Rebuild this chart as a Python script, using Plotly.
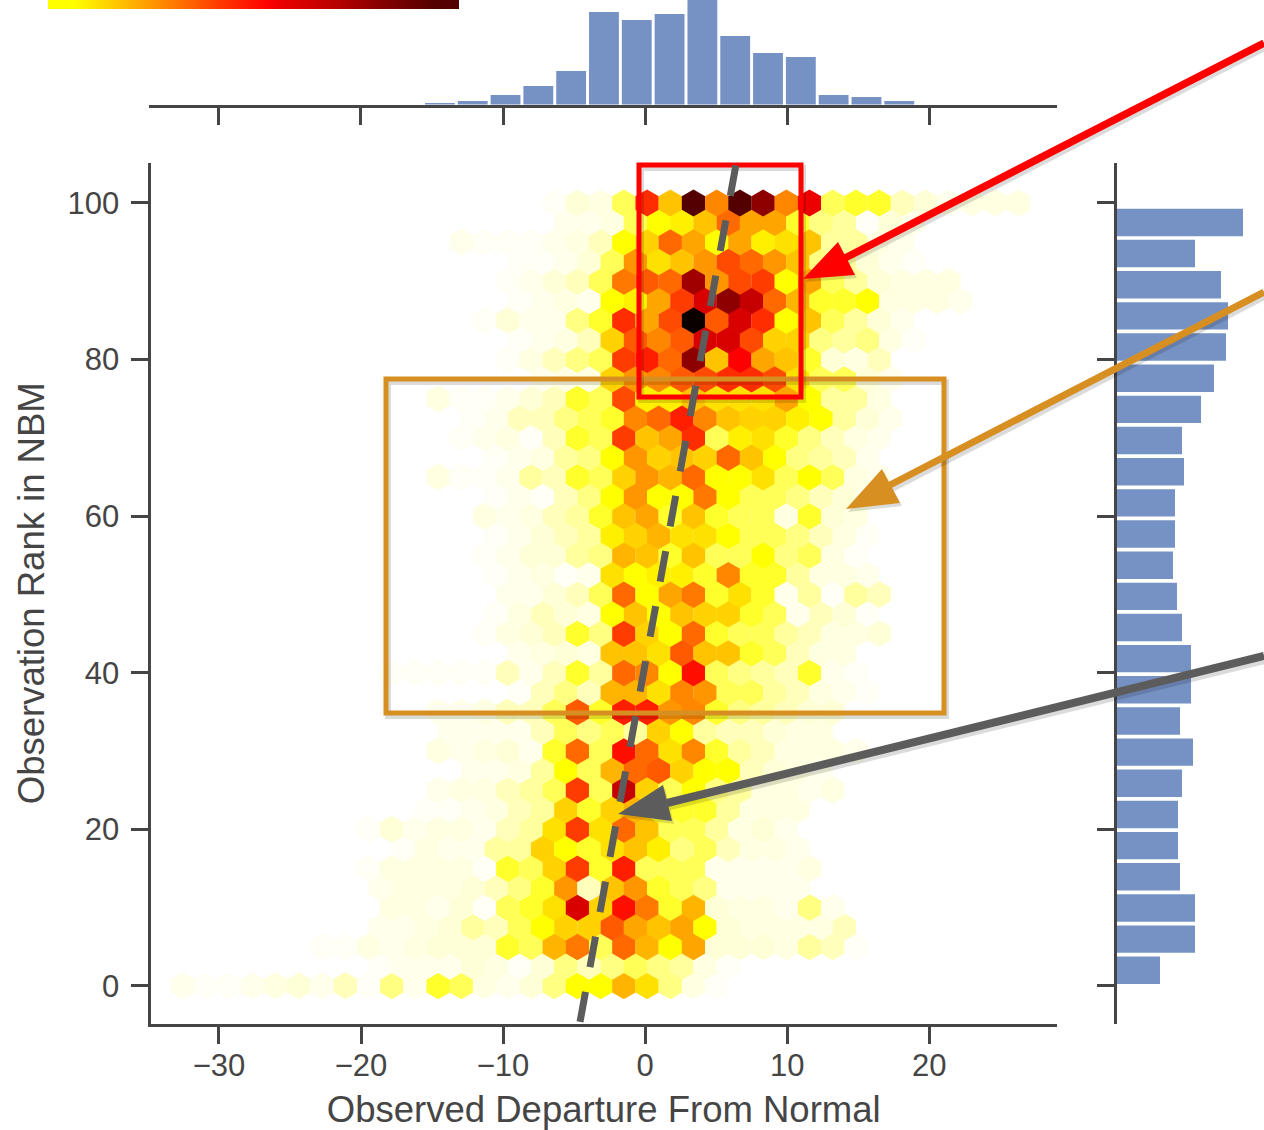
import plotly.graph_objects as go

# ---- axis tick labels ----
x_ticks = [-30, -20, -10, 0, 10, 20]
y_ticks = [0, 20, 40, 60, 80, 100]
x_title = "Observed Departure From Normal"
y_title = "Observation Rank in NBM"

# ---- marginal histograms ----
top_hist_first_edge = -15.6
top_hist_bin = 2.31
top_hist_counts = [3, 5, 11, 20, 35, 94, 86, 92, 108, 70, 53, 49, 11, 9, 5]
right_hist_bin = 3.98
right_hist_counts = [45, 80, 80, 65, 63, 63, 67, 78, 65, 76, 76, 67, 62,
                     58, 60, 60, 69, 67, 86, 99, 111, 113, 106, 80, 128]

# ---- hexbin counts, one list per hexagon row (bottom to top) ----
hex_dx = 1.634
hex_dy = 2.5
hex_x0 = 0.14
row_starts = [-20, -12, -14, -12, -11, -12, -12, -11, -12, -10, -9, -8, -9, -9, -9, -6, -11, -6, -7, -7, -6,
              -7, -7, -7, -7, -7, -9, -7, -8, -8, -9, -5, -6, -6, -7, -6, -6, -6, -8, -4, -4]
row_00 = [2, 1, 1, 2, 3, 4, 2, 5, 1, 7, 2, 9, 8, 3, 2, 4, 7, 10, 10, 15, 12, 7, 3, 1]
row_01 = [1, 2, 2, 2, 4, 3, 1, 4, 7, 5, 7, 8, 7, 6, 3, 1]
row_02 = [1, 1, 3, 2, 3, 4, 4, 4, 9, 8, 15, 19, 8, 20, 15, 10, 16, 4, 4, 4, 3, 6, 5, 1]
row_03 = [2, 2, 3, 4, 6, 5, 8, 10, 13, 13, 21, 16, 14, 16, 10, 4, 3, 3, 3, 3, 5]
row_04 = [3, 3, 2, 4, 1, 8, 9, 12, 29, 13, 26, 19, 9, 15, 4, 3, 3, 2, 7, 2]
row_05 = [2, 3, 3, 3, 4, 5, 7, 9, 17, 5, 14, 17, 9, 8, 7, 2, 2, 2, 2]
row_06 = [1, 3, 3, 3, 3, 1, 9, 8, 13, 23, 9, 25, 8, 8, 8, 2, 2, 2, 2, 3]
row_07 = [1, 3, 2, 2, 6, 6, 13, 10, 9, 12, 14, 11, 7, 8, 5, 3, 3, 2]
row_08 = [1, 4, 2, 3, 3, 2, 5, 6, 12, 23, 12, 20, 14, 8, 8, 6, 3, 4, 2]
row_09 = [1, 1, 2, 3, 5, 6, 13, 9, 13, 15, 9, 9, 9, 6, 3, 3, 3]
row_10 = [2, 3, 3, 5, 6, 8, 23, 8, 30, 13, 8, 10, 7, 6, 3, 3, 2, 3]
row_11 = [2, 2, 3, 6, 10, 8, 15, 20, 21, 13, 10, 10, 5, 4, 3, 2]
row_12 = [3, 2, 3, 4, 2, 9, 20, 8, 26, 20, 12, 18, 9, 6, 5, 3, 3, 3, 2]
row_13 = [2, 2, 2, 2, 5, 8, 7, 8, 6, 13, 10, 6, 5, 5, 4, 3, 3]
row_14 = [2, 2, 3, 5, 5, 8, 21, 9, 25, 25, 17, 18, 9, 7, 6, 5, 4, 4]
row_15 = [1, 5, 7, 5, 15, 15, 12, 18, 17, 8, 8, 6, 5, 3, 2, 1]
row_16 = [1, 1, 1, 1, 1, 5, 2, 5, 9, 6, 20, 18, 10, 26, 8, 7, 6, 5, 9, 2, 1]
row_17 = [2, 3, 4, 3, 14, 14, 12, 21, 14, 14, 9, 8, 5, 3, 3]
row_18 = [1, 3, 4, 5, 9, 7, 23, 13, 10, 20, 9, 8, 8, 6, 5, 3, 3, 4]
row_19 = [1, 3, 5, 4, 3, 10, 14, 10, 14, 13, 13, 9, 8, 2, 5, 4, 1]
row_20 = [2, 2, 4, 5, 8, 20, 10, 16, 19, 9, 12, 9, 2, 6, 1, 6, 5]
row_21 = [1, 2, 3, 1, 2, 12, 10, 11, 11, 9, 18, 9, 9, 6, 3, 3, 2]
row_22 = [1, 2, 4, 4, 6, 7, 15, 14, 9, 14, 8, 8, 10, 7, 8, 3, 1]
row_23 = [1, 2, 4, 5, 6, 11, 13, 15, 12, 12, 10, 8, 8, 7, 5, 3, 1]
row_24 = [3, 2, 3, 5, 6, 9, 14, 16, 9, 14, 9, 8, 8, 3, 9, 4, 3]
row_25 = [1, 2, 1, 5, 7, 10, 17, 10, 10, 19, 10, 8, 8, 7, 5, 4, 2]
row_26 = [3, 1, 1, 2, 6, 5, 9, 8, 13, 17, 15, 20, 10, 10, 12, 8, 10, 8, 3, 2]
row_27 = [1, 2, 3, 6, 7, 10, 17, 13, 14, 13, 20, 14, 10, 7, 6, 5, 2]
row_28 = [1, 2, 3, 1, 5, 9, 8, 23, 14, 16, 24, 8, 11, 12, 9, 7, 5, 3, 2]
row_29 = [1, 2, 5, 5, 7, 8, 9, 18, 20, 25, 18, 14, 13, 13, 11, 10, 6, 4, 2]
row_30 = [3, 1, 1, 2, 4, 5, 9, 8, 22, 11, 11, 14, 12, 12, 12, 16, 10, 6, 6, 3]
row_31 = [2, 3, 3, 13, 17, 18, 21, 22, 24, 24, 22, 12, 8, 8, 4, 2]
row_32 = [1, 3, 5, 7, 8, 23, 25, 20, 33, 14, 27, 16, 14, 9, 4, 3, 5]
row_33 = [1, 2, 3, 5, 13, 21, 18, 21, 29, 29, 22, 13, 13, 7, 6, 7, 3, 1]
row_34 = [1, 4, 2, 2, 7, 9, 24, 16, 22, 40, 21, 29, 24, 10, 14, 8, 6, 4, 2]
row_35 = [1, 2, 3, 2, 10, 11, 16, 23, 29, 33, 30, 20, 15, 9, 9, 10, 3, 3, 3, 2]
row_36 = [1, 2, 4, 5, 8, 19, 21, 20, 32, 17, 22, 23, 10, 16, 8, 6, 4, 3, 3, 3]
row_37 = [1, 1, 2, 4, 8, 17, 12, 14, 17, 22, 20, 17, 14, 7, 6, 4, 2, 1]
row_38 = [2, 1, 1, 1, 2, 3, 5, 10, 13, 20, 16, 10, 16, 11, 12, 14, 6, 6, 3, 2]
row_39 = [2, 2, 3, 8, 10, 11, 14, 20, 16, 16, 9, 7, 6, 1, 4, 2]
row_40 = [1, 4, 3, 8, 24, 14, 36, 18, 36, 33, 18, 28, 8, 9, 9, 5, 4, 2, 3, 3, 3]
hex_rows = [row_00, row_01, row_02, row_03, row_04, row_05, row_06, row_07, row_08, row_09, row_10,
            row_11, row_12, row_13, row_14, row_15, row_16, row_17, row_18, row_19, row_20,
            row_21, row_22, row_23, row_24, row_25, row_26, row_27, row_28, row_29, row_30,
            row_31, row_32, row_33, row_34, row_35, row_36, row_37, row_38, row_39, row_40]

# ---- dashed regression line ----
regression_x = [6.39, -4.58]
regression_y = [104.8, -4.6]

# ---- colour bar levels ----
colorbar_levels = [10, 14.6, 19.2, 23.9, 28, 30.5, 33.5, 36]

# hot_r-like colour ramp on the 0..40 count scale
hot_r = [[0, "rgb(255,255,255)"], [0.1, "rgb(255,255,215)"], [0.175, "rgb(255,255,130)"],
         [0.25, "rgb(255,255,0)"], [0.675, "rgb(255,0,0)"], [1, "rgb(10,0,0)"]]

W, H = 1264, 1130
def px(x): return x / W
def py(y): return 1 - y / H

INK = "#454545"
BLUE = "rgb(118,146,196)"
RED = "#ff0000"
ORANGE = "#d78f22"
GRAY = "#5c5c5c"

hex_x, hex_y, hex_v = [], [], []
for r, (start, row) in enumerate(zip(row_starts, hex_rows)):
    for i, v in enumerate(row):
        k = start + i
        hex_x.append(hex_x0 + hex_dx * (k + (0.5 if r % 2 else 0)))
        hex_y.append(r * hex_dy)
        hex_v.append(v)

fig = go.Figure()
fig.add_trace(go.Scatter(
    x=hex_x, y=hex_y, mode="markers", xaxis="x", yaxis="y", showlegend=False,
    marker=dict(symbol="hexagon", size=27, color=hex_v, colorscale=hot_r, cmin=0, cmax=40, line=dict(width=0)),
))

top_x = [top_hist_first_edge + top_hist_bin * (i + 0.5) for i in range(len(top_hist_counts))]
fig.add_trace(go.Bar(x=top_x, y=top_hist_counts, width=top_hist_bin * 0.91, xaxis="x2", yaxis="y2",
                     marker=dict(color=BLUE, line=dict(width=0)), showlegend=False))
right_y = [right_hist_bin * (i + 0.5) for i in range(len(right_hist_counts))]
fig.add_trace(go.Bar(y=right_y, x=right_hist_counts, width=right_hist_bin * 0.88, orientation="h",
                     xaxis="x3", yaxis="y3", marker=dict(color=BLUE, line=dict(width=0)), showlegend=False))
fig.add_trace(go.Heatmap(z=[colorbar_levels, colorbar_levels], xaxis="x4", yaxis="y4", colorscale=hot_r,
                         zmin=0, zmax=40, zsmooth="best", showscale=False))

def rect(x0, y0, x1, y1, color):
    return [
        dict(type="rect", xref="paper", yref="paper", x0=px(x0 + 2), x1=px(x1 + 2), y0=py(y0 + 3), y1=py(y1 + 3),
             line=dict(color="rgba(0,0,0,0.14)", width=6)),
        dict(type="rect", xref="paper", yref="paper", x0=px(x0), x1=px(x1), y0=py(y0), y1=py(y1),
             line=dict(color=color, width=5)),
    ]

def arrow(start, neck, tip, c1, c2, color, width):
    def tri(dx, dy, col):
        return dict(type="path", xref="paper", yref="paper", line=dict(width=0), fillcolor=col,
                    path="M{} {} L{} {} L{} {} Z".format(px(tip[0] + dx), py(tip[1] + dy), px(c1[0] + dx), py(c1[1] + dy),
                                                         px(c2[0] + dx), py(c2[1] + dy)))
    def ln(dx, dy, col, w):
        return dict(type="line", xref="paper", yref="paper", x0=px(start[0] + dx), y0=py(start[1] + dy),
                    x1=px(neck[0] + dx), y1=py(neck[1] + dy), line=dict(color=col, width=w))
    return [ln(2, 3, "rgba(0,0,0,0.14)", width + 1), tri(2, 3, "rgba(0,0,0,0.14)"),
            ln(0, 0, color, width), tri(0, 0, color)]

shapes = []
shapes += rect(386, 379, 944, 713, ORANGE)
shapes += rect(639, 165, 801, 397, RED)
shapes.append(dict(type="line", xref="x", yref="y", x0=regression_x[0], y0=regression_y[0],
                   x1=regression_x[1], y1=regression_y[1], line=dict(color=GRAY, width=7, dash="31px,25px")))
shapes += arrow((1264, 43), (845, 258), (803, 279), (838, 242), (855, 275), RED, 7.5)
shapes += arrow((1264, 292), (888, 486), (846, 509), (882, 469), (900, 503), ORANGE, 7)
shapes += arrow((1264, 656), (667, 803), (618, 814), (663, 785), (672, 821), GRAY, 8)

tick_font = dict(family="Liberation Sans, Arial, sans-serif", size=31, color=INK)
title_font = dict(family="Liberation Sans, Arial, sans-serif", size=36.5, color=INK)
common = dict(showgrid=False, zeroline=False, showline=True, linecolor=INK, linewidth=3,
              ticks="outside", ticklen=17, tickwidth=3, tickcolor=INK)

x_range = [-34.82, 29.0]
x2_range = [-34.96, 29.0]
y_range = [-4.81, 105.1]

fig.update_layout(
    width=W, height=H, margin=dict(l=0, r=0, t=0, b=0), paper_bgcolor="white", plot_bgcolor="rgba(0,0,0,0)",
    showlegend=False, shapes=shapes, font=tick_font,
    xaxis=dict(domain=[px(150.5), px(1057)], range=x_range, anchor="y", tickvals=x_ticks, tickfont=tick_font,
               ticklabelstandoff=-5, title=dict(text=x_title, font=title_font, standoff=19), **common),
    yaxis=dict(domain=[py(1023.5), py(163)], range=y_range, anchor="x", tickvals=y_ticks, tickfont=tick_font,
               ticklabelstandoff=5, title=dict(text=y_title, font=title_font, standoff=12), **common),
    xaxis2=dict(domain=[px(148.5), px(1057)], range=x2_range, anchor="y2", tickvals=x_ticks, showticklabels=False, **common),
    yaxis2=dict(domain=[py(104.5), 1], range=[1.5, 106], anchor="x2", visible=False),
    xaxis3=dict(domain=[px(1116.5), 1], range=[1.5, 149], anchor="y3", visible=False),
    yaxis3=dict(domain=[py(1023.5), py(163)], range=y_range, anchor="x3", tickvals=y_ticks, showticklabels=False, **common),
    xaxis4=dict(domain=[px(48), px(459)], anchor="y4", visible=False),
    yaxis4=dict(domain=[py(9), 1], anchor="x4", visible=False),
)

fig.write_html("out.html", config=dict(displayModeBar=False), post_script="document.body.style.margin='0';")
